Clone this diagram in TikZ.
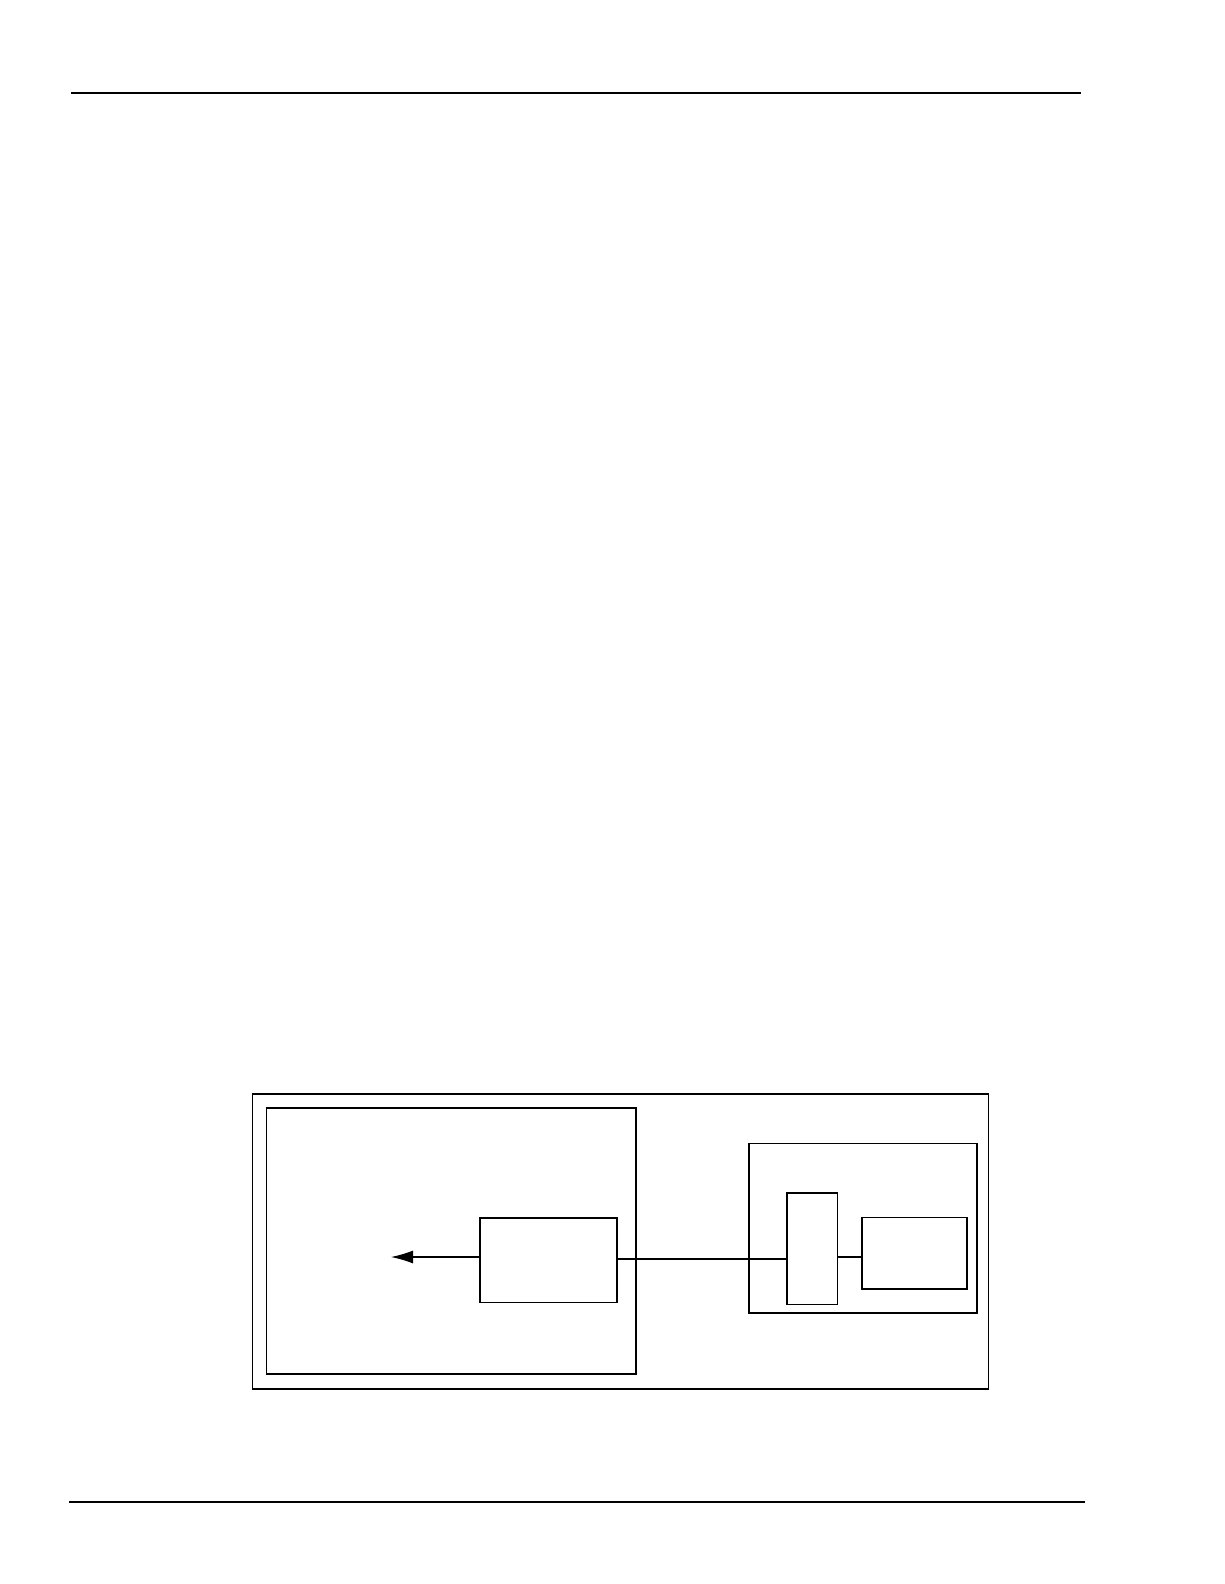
\documentclass[tikz,border=0pt]{standalone}
\usetikzlibrary{arrows.meta}
\begin{document}
\begin{tikzpicture}[x=1pt,y=-1pt,
  box/.style={draw=black,line width=1.1pt,inner sep=0pt,minimum width=0pt,minimum height=0pt},
  wire/.style={draw=black,line width=1.1pt}]
\useasboundingbox (0,0) rectangle (1224,1584);
% page rules
\draw[line width=2.4pt] (71,93) coordinate (rt1) -- (1081,93) coordinate (rt2);
\draw[line width=1.1pt] (69,1502) coordinate (rb1) -- (1085,1502) coordinate (rb2);
% boxes
\draw[box] (252.5,1094) rectangle (988.5,1389);
\draw[box] (266.7,1108) rectangle (636,1374);
\node[box,minimum width=137pt,minimum height=84.5pt] (mid) at (548.5,1260.25) {};
\draw[box] (749,1143.5) rectangle (977,1313);
\node[box,minimum width=50.5pt,minimum height=111.5pt] (tall) at (812.25,1248.75) {};
\node[box,minimum width=105pt,minimum height=71.5pt] (small) at (914.5,1253.25) {};
% connectors
\coordinate (tip) at (391,1257);
\coordinate (c1) at (0,1257);
\coordinate (c2) at (0,1259);
\draw[wire,-{Latex[length=22pt,width=13pt]}] (mid.west |- c1) -- (tip);
\draw[wire] (mid.east |- c2) -- ([xshift=2pt]tall.west |- c2);
\draw[wire] (tall.east |- c1) -- (small.west |- c1);
\end{tikzpicture}
\end{document}
